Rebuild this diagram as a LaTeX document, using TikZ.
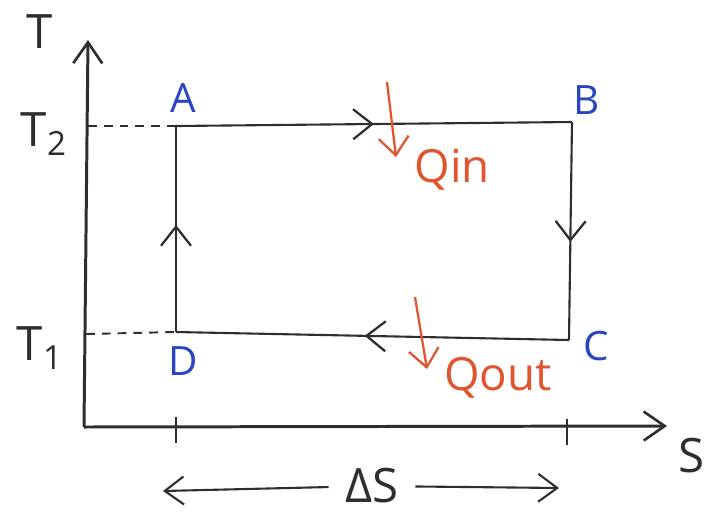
\documentclass[tikz,border=0pt]{standalone}
\usepackage{fontspec}
\setmainfont{Open Sans}
\usetikzlibrary{arrows.meta,positioning,decorations.markings}
\definecolor{pblue}{HTML}{2A45C0}
\definecolor{pred}{HTML}{E0552E}
\colorlet{pline}{black!82}

\begin{document}
\begin{tikzpicture}[x=0.02cm,y=-0.02cm,
  axis/.style={pline,line width=1.7pt,-{Straight Barb[length=4.2mm,width=5.8mm,line width=1.5pt]}},
  cyc/.style={pline,line width=1.2pt},
  midarr/.style={postaction={decorate},decoration={markings,
    mark=at position #1 with {\arrow{Straight Barb[length=3.8mm,width=6mm,line width=1.3pt]}}}},
  guide/.style={pline,line width=1.1pt,dash pattern=on 5pt off 4pt},
  tickmark/.style={pline,line width=1.3pt},
  heat/.style={pred,line width=1.3pt,-{Straight Barb[length=3.6mm,width=6mm,line width=1.3pt]}},
  spanarr/.style={pline,line width=1.2pt,-{Straight Barb[length=3.8mm,width=5.6mm,line width=1.2pt]}},
  corner/.style={text=pblue,font=\fontsize{23}{26}\selectfont},
  heatlbl/.style={text=pred,font=\fontsize{26}{30}\selectfont},
  axlbl/.style={text=pline,font=\fontsize{27}{30}\selectfont}]
\useasboundingbox (0,0) rectangle (711,512);

% ---- axes ----------------------------------------------------------------
\coordinate (O)    at (84,427);
\coordinate (Ttop) at (88,40);
\coordinate (Send) at (667,426);
\draw[axis] (O) -- (Ttop);
\draw[axis] (O) -- (Send);
\node[axlbl] (Tlbl) at (40,32)  {T};
\node[axlbl] (Slbl) at (692,456) {S};

% ---- the cycle -----------------------------------------------------------
\coordinate (a) at (176,126);
\coordinate (b) at (572,122);
\coordinate (c) at (569,340);
\coordinate (d) at (176,332);
\draw[cyc,midarr=0.50] (a) -- (b);
\draw[cyc,midarr=0.55] (b) -- (c);
\draw[cyc,midarr=0.52] (c) -- (d);
\draw[cyc,midarr=0.52] (d) -- (a);
\node[corner] (A) at (183,98)  {A};
\node[corner] (B) at (587,100) {B};
\node[corner] (C) at (596,346) {C};
\node[corner] (D) at (183,361) {D};

% ---- the two temperatures ------------------------------------------------
\coordinate (t2) at (88,126);
\coordinate (t1) at (86,334);
\draw[guide] (t2) -- (a);
\draw[guide] (t1) -- (d);
\node[axlbl] (T2) at (44,134) {T\textsubscript{2}};
\node[axlbl] (T1) at (40,348) {T\textsubscript{1}};

% ---- heat in and out -----------------------------------------------------
\coordinate (qin0)  at (387,82);
\coordinate (qin1)  at (396,157);
\coordinate (qout0) at (415,297);
\coordinate (qout1) at (427,369);
\draw[heat] (qin0) -- (qin1);
\draw[heat] (qout0) -- (qout1);
\node[heatlbl] (Qin)  at (452,170) {Qin};
\node[heatlbl] (Qout) at (498,378) {Qout};

% ---- entropy span --------------------------------------------------------
\draw[tickmark] (176,417) -- (176,443);
\draw[tickmark] (567,419) -- (567,445);
\node[axlbl] (DS) at (372,486) {ΔS};
\coordinate (dsl) at (163,491);
\coordinate (dsr) at (559,488);
\draw[spanarr,shorten <=6pt] (DS) -- (dsl);
\draw[spanarr,shorten <=6pt] (DS) -- (dsr);
\end{tikzpicture}
\end{document}
